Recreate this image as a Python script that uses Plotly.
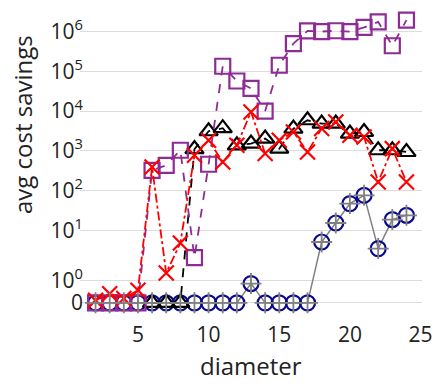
import numpy as np
import plotly.graph_objects as go

diameter = list(range(2, 25))

purple_vals = [0, 0, 0, 0, 322, 430, 1030, 2.04, 457, 1.34e5, 5.7e4, 3.7e4, 1.0e4,
               1.42e5, 5.0e5, 1.04e6, 1.0e6, 1.05e6, 1.0e6, 1.27e6, 1.75e6, 4.4e5, 1.94e6]
black_x = list(range(6, 25))
black_vals = [0, 0, 0, 1100, 3100, 3700, 1370, 1520, 2030, 1130, 3620, 5860, 4840,
              4840, 2710, 2970, 1030, 1030, 930]
red_vals = [0.11, 0.41, 0.19, 0.56, 390, 1.33, 4.75, 770, 1840, 520, 1370, 9500, 850,
            1840, 2970, 930, 3620, 5300, 2450, 2220, 164, 1130, 164]
navy_vals = [0, 0, 0, 0, 0, 0, 0, 0, 0, 0, 0, 0.86, 0, 0, 0, 0, 5.04, 15.2, 46.7,
             75.7, 3.44, 18.5, 23.7]

ytick_vals = [0, 1, 10, 100, 1e3, 1e4, 1e5, 1e6]
ytick_text = ["0", "10<sup>0</sup>", "10<sup>1</sup>", "10<sup>2</sup>", "10<sup>3</sup>",
              "10<sup>4</sup>", "10<sup>5</sup>", "10<sup>6</sup>"]


# symlog-like transform of the y axis
def symlog(v, L=2.0, s=1.13):
    v = np.asarray(v, dtype=float)
    return np.where(v < L, s * v / L, s + np.log10(np.maximum(v, L) / L))


fig = go.Figure()

# navy circles with grey line (drawn first, under the rest)
fig.add_scatter(x=diameter, y=symlog(navy_vals), mode="lines+markers",
                line=dict(color="gray", width=1.5),
                marker=dict(symbol="circle-open", size=15, color="#0a0a8c",
                            line=dict(width=2.2, color="#0a0a8c")))
fig.add_scatter(x=black_x, y=symlog(black_vals), mode="lines+markers",
                line=dict(color="black", dash="dash", width=1.8),
                marker=dict(symbol="triangle-up-open", size=16, color="black",
                            line=dict(width=2.2, color="black")))
fig.add_scatter(x=diameter, y=symlog(purple_vals), mode="lines+markers",
                line=dict(color="#8e2c95", dash="dash", width=1.8),
                marker=dict(symbol="square-open", size=15, color="#8e2c95",
                            line=dict(width=2.2, color="#8e2c95")))
fig.add_scatter(x=diameter, y=symlog(red_vals), mode="lines+markers",
                line=dict(color="red", dash="dashdot", width=1.8),
                marker=dict(symbol="x-thin-open", size=15, color="red",
                            line=dict(width=2.2, color="red")))
fig.add_scatter(x=diameter, y=symlog(navy_vals), mode="markers",
                marker=dict(symbol="cross-thin-open", size=15, color="gray",
                            line=dict(width=1.8, color="gray")))

font = "'Open Sans', Lato, sans-serif"
fig.update_layout(
    width=440, height=387,
    margin=dict(l=80, r=18, t=6, b=70),
    plot_bgcolor="white", paper_bgcolor="white",
    showlegend=False,
    font=dict(family=font, size=21, color="#222"),
)
fig.update_xaxes(range=[0.9, 25.1], tickvals=[5, 10, 15, 20, 25], showgrid=False,
                 zeroline=False, showline=False, ticks="", automargin=False,
                 ticklabelstandoff=3)
fig.update_yaxes(range=[-0.356, 7.473], tickvals=symlog(ytick_vals), ticktext=ytick_text,
                 showgrid=True, gridcolor="#dcdcdc", gridwidth=1, zeroline=False,
                 showline=False, ticks="", automargin=False, ticklabelstandoff=-4)

# axis titles placed like the reference
fig.add_annotation(text="diameter", xref="paper", yref="paper", x=0.5, y=-0.155,
                   xanchor="center", yanchor="middle", showarrow=False,
                   font=dict(family=font, size=24, color="#222"))
fig.add_annotation(text="avg cost savings", xref="paper", yref="paper", x=-0.17, y=0.62,
                   xanchor="center", yanchor="middle", textangle=-90, showarrow=False,
                   font=dict(family=font, size=24, color="#222"))

fig.write_html("out.html", config={"displayModeBar": False},
               post_script="document.body.style.margin='0px';")
